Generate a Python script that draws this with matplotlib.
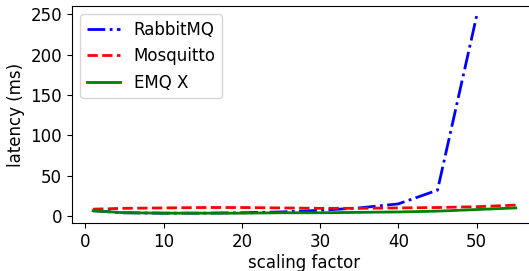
import matplotlib
matplotlib.use("Agg")
import matplotlib.pyplot as plt

plt.rcParams.update({"font.size": 12})

x_rabbit = [1, 5, 10, 15, 20, 25, 30, 35, 40, 45, 50]
rabbitmq = [6.5, 4, 3.5, 3.5, 4, 5, 7, 10, 15, 32, 248]
x_other = [1, 5, 10, 15, 20, 25, 30, 35, 40, 45, 50, 55]
mosquitto = [8.5, 9.5, 10, 10.5, 10.5, 10, 9.5, 9.5, 10, 10.5, 11.5, 13.5]
emqx = [6.5, 4, 3.5, 3.5, 3.5, 4, 4, 4.5, 5, 6, 8, 10]

fig = plt.figure(figsize=(5.29, 2.71), dpi=100)
ax = fig.add_axes([0.136, 0.177, 0.879, 0.801])
ax.plot(x_rabbit, rabbitmq, color="blue", linestyle="-.", lw=2, label="RabbitMQ")
ax.plot(x_other, mosquitto, color="red", linestyle="--", lw=2, label="Mosquitto")
ax.plot(x_other, emqx, color="green", linestyle="-", lw=2, label="EMQ X")
ax.set_xlabel("scaling factor", labelpad=2)
ax.set_ylabel("latency (ms)")
ax.set_xticks([0, 10, 20, 30, 40, 50])
ax.set_yticks([0, 50, 100, 150, 200, 250])
ax.legend(loc="upper left")
fig.savefig("out.png", dpi=100)
